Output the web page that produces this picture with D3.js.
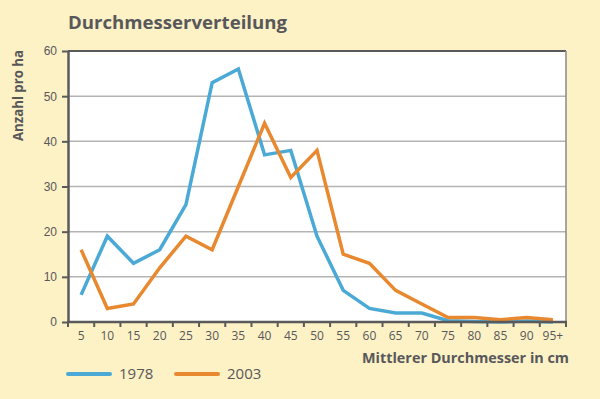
<!DOCTYPE html>
<html>
<head>
<meta charset="utf-8">
<script src="https://cdn.jsdelivr.net/npm/d3@7"></script>
<style>
  body { margin: 0; background: #fdf1c6; }
  svg { display: block; font-family: "Open Sans", "DejaVu Sans", sans-serif; }
</style>
</head>
<body>
<div class="chart"></div>
<script>
const categories = ['5','10','15','20','25','30','35','40','45','50','55','60','65','70','75','80','85','90','95+'];
const values1978 = [6, 19, 13, 16, 26, 53, 56, 37, 38, 19, 7, 3, 2, 2, 0.3, 0.1, 0, 0.2, 0];
const values2003 = [16, 3, 4, 12, 19, 16, 30, 44, 32, 38, 15, 13, 7, 4, 1, 1, 0.5, 1, 0.5];
const yTicks = [0, 10, 20, 30, 40, 50, 60];
const seriesNames = ['1978', '2003'];

const width = 600, height = 399;
const margin = {top: 51, right: 34, bottom: 77, left: 68};
const colors = {'1978': '#4ba9d6', '2003': '#e8892f'};
const textColor = '#58585a';

const svg = d3.select('.chart')
  .append('svg')
  .attr('width', width)
  .attr('height', height);

svg.append('rect')
  .attr('width', width).attr('height', height)
  .attr('fill', '#fdf1c6');

const x = d3.scaleBand()
  .domain(categories)
  .range([margin.left, width - margin.right]);

const y = d3.scaleLinear()
  .domain([0, 60])
  .range([height - margin.bottom, margin.top]);

// plot background
svg.append('rect')
  .attr('x', margin.left).attr('y', margin.top)
  .attr('width', width - margin.left - margin.right)
  .attr('height', height - margin.top - margin.bottom)
  .attr('fill', '#ffffff');

// gridlines
svg.append('g')
  .selectAll('line')
  .data(yTicks.filter(d => d > 0 && d < 60))
  .enter()
  .append('line')
  .attr('x1', margin.left).attr('x2', width - margin.right)
  .attr('y1', d => y(d)).attr('y2', d => y(d))
  .attr('stroke', '#b4b4b4')
  .attr('stroke-width', 1.5);

// frame top and right
svg.append('line')
  .attr('x1', margin.left).attr('x2', width - margin.right)
  .attr('y1', y(60)).attr('y2', y(60))
  .attr('stroke', '#5a5a5a').attr('stroke-width', 2);
svg.append('line')
  .attr('x1', width - margin.right).attr('x2', width - margin.right)
  .attr('y1', y(60)).attr('y2', y(0))
  .attr('stroke', '#8a8a8a').attr('stroke-width', 1.5);

// lines
const line = d3.line()
  .x((d, i) => x(categories[i]) + x.bandwidth() / 2)
  .y(d => y(d));

[values1978, values2003].forEach(function(vals, i) {
  svg.append('path')
    .datum(vals)
    .attr('fill', 'none')
    .attr('stroke', colors[seriesNames[i]])
    .attr('stroke-width', 3.5)
    .attr('stroke-linejoin', 'miter')
    .attr('d', line);
});

// y axis
const yAxis = svg.append('g')
  .attr('transform', 'translate(' + margin.left + ',0)')
  .call(d3.axisLeft(y).tickValues(yTicks).tickSize(6).tickPadding(5).tickSizeOuter(0));
yAxis.select('.domain').attr('stroke', '#5a5a5a').attr('stroke-width', 2.5);
yAxis.selectAll('.tick line').attr('stroke', '#5a5a5a').attr('stroke-width', 2);
yAxis.selectAll('.tick text')
  .attr('fill', textColor)
  .style('font-size', '12px');

// x axis with ticks at band edges
const xAxisG = svg.append('g')
  .attr('transform', 'translate(0,' + y(0) + ')');
xAxisG.append('line')
  .attr('x1', margin.left - 1).attr('x2', width - margin.right + 1)
  .attr('stroke', '#5a5a5a').attr('stroke-width', 2.5);
xAxisG.selectAll('.xtick')
  .data(categories.concat(['end']))
  .enter()
  .append('line')
  .attr('x1', (d, i) => margin.left + i * x.step())
  .attr('x2', (d, i) => margin.left + i * x.step())
  .attr('y1', 0).attr('y2', 5)
  .attr('stroke', '#5a5a5a').attr('stroke-width', 2);
xAxisG.selectAll('.xlabel')
  .data(categories)
  .enter()
  .append('text')
  .attr('x', d => x(d) + x.bandwidth() / 2)
  .attr('y', 18)
  .attr('text-anchor', 'middle')
  .attr('fill', textColor)
  .style('font-size', '12px')
  .text(d => d);

// titles
svg.append('text')
  .attr('x', 68).attr('y', 29)
  .attr('fill', textColor)
  .attr('textLength', 219)
  .attr('lengthAdjust', 'spacingAndGlyphs')
  .style('font-size', '17px')
  .style('font-weight', 'bold')
  .text('Durchmesserverteilung');

svg.append('text')
  .attr('transform', 'translate(23,95.5) rotate(-90)')
  .attr('text-anchor', 'middle')
  .attr('fill', textColor)
  .attr('textLength', 91)
  .attr('lengthAdjust', 'spacingAndGlyphs')
  .style('font-size', '14px')
  .style('font-weight', 'bold')
  .text('Anzahl pro ha');

svg.append('text')
  .attr('x', 569).attr('y', 363)
  .attr('text-anchor', 'end')
  .attr('fill', textColor)
  .attr('textLength', 207)
  .attr('lengthAdjust', 'spacingAndGlyphs')
  .style('font-size', '14px')
  .style('font-weight', 'bold')
  .text('Mittlerer Durchmesser in cm');

// legend
const legend = svg.selectAll('.legend')
  .data(seriesNames)
  .enter()
  .append('g')
  .attr('class', 'legend')
  .attr('transform', (d, i) => 'translate(' + (68 + i * 108) + ',374)');

legend.append('line')
  .attr('x1', 0).attr('x2', 42)
  .attr('stroke', d => colors[d])
  .attr('stroke-width', 4)
  .attr('stroke-linecap', 'round');

legend.append('text')
  .attr('x', 51).attr('y', 5)
  .attr('fill', textColor)
  .style('font-size', '15px')
  .text(d => d);
</script>
</body>
</html>
